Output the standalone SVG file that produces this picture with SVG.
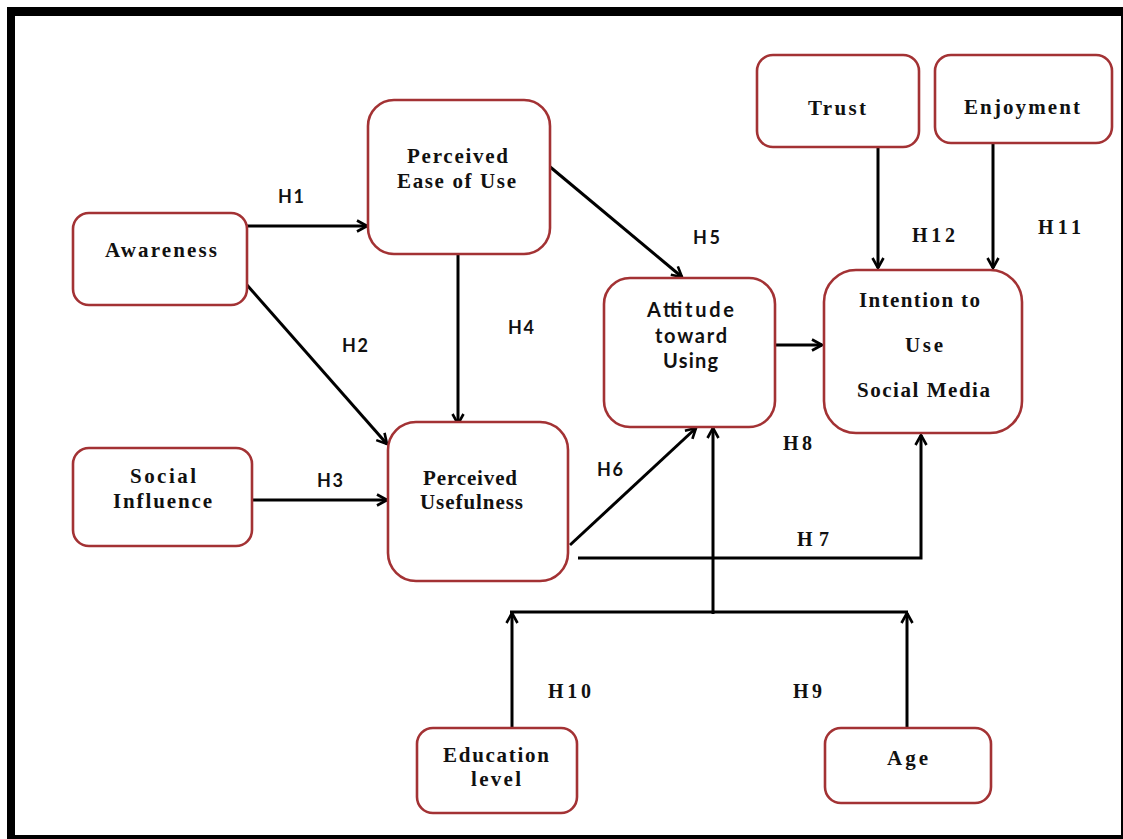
<svg xmlns="http://www.w3.org/2000/svg" width="1123" height="839" viewBox="0 0 1123 839">
<defs>
<marker id="arr" viewBox="0 0 14 14" refX="12" refY="7" markerWidth="14" markerHeight="14" markerUnits="userSpaceOnUse" orient="auto">
<path d="M2,1.5 L12,7 L2,12.5" fill="none" stroke="#000" stroke-width="2.6" stroke-linejoin="miter"/>
</marker>
</defs>
<style>
.box{fill:#fff;stroke:#a33234;stroke-width:2.6}
.t{font-family:"Liberation Serif",serif;font-weight:bold;font-size:21px;fill:#111}
.s{font-family:Lato,"Liberation Sans",sans-serif;font-weight:bold;font-size:20px;fill:#111}
.hs{font-family:Lato,"Liberation Sans",sans-serif;font-weight:bold;font-size:18px;fill:#111}
.hr{font-family:"Liberation Serif",serif;font-weight:bold;font-size:20px;fill:#111}
.c{fill:none;stroke:#000;stroke-width:3}
</style>
<rect x="0" y="0" width="1123" height="839" fill="#fff"/>
<path d="M7,7 H1123 V839 H7 Z M15,16 V835 H1121 V16 Z" fill="#000" fill-rule="evenodd"/>

<g id="connectors">
<line class="c" x1="247" y1="226" x2="367" y2="226" marker-end="url(#arr)"/>
<line class="c" x1="247" y1="285" x2="387" y2="444" marker-end="url(#arr)"/>
<line class="c" x1="252" y1="500" x2="387" y2="500" marker-end="url(#arr)"/>
<line class="c" x1="458" y1="246" x2="458" y2="424" marker-end="url(#arr)"/>
<line class="c" x1="549" y1="166" x2="682" y2="277" marker-end="url(#arr)"/>
<line class="c" x1="770" y1="345" x2="822" y2="345" marker-end="url(#arr)"/>
<line class="c" x1="878" y1="142" x2="878" y2="268" marker-end="url(#arr)"/>
<line class="c" x1="993" y1="144" x2="993" y2="268" marker-end="url(#arr)"/>
<line class="c" x1="570" y1="545" x2="696" y2="428" marker-end="url(#arr)"/>
<polyline class="c" points="578,558 921,558 921,435" marker-end="url(#arr)"/>
<line class="c" x1="510" y1="612" x2="908" y2="612"/>
<line class="c" x1="713" y1="614" x2="713" y2="428" marker-end="url(#arr)"/>
<line class="c" x1="512" y1="737" x2="512" y2="613" marker-end="url(#arr)"/>
<line class="c" x1="907" y1="735" x2="907" y2="613" marker-end="url(#arr)"/>
<text class="hs" x="278" y="203" textLength="26">H1</text>
<text class="hs" x="342" y="352" textLength="26">H2</text>
<text class="hs" x="317" y="487" textLength="26">H3</text>
<text class="hs" x="508" y="334" textLength="26">H4</text>
<text class="hs" x="693" y="244" textLength="27">H5</text>
<text class="hs" x="597" y="476" textLength="26">H6</text>
<text class="hr" x="797" y="546" textLength="32">H7</text>
<text class="hr" x="783" y="450" textLength="29">H8</text>
<text class="hr" x="793" y="698" textLength="29">H9</text>
<text class="hr" x="548" y="698" textLength="43">H10</text>
<text class="hr" x="1038" y="234" textLength="43">H11</text>
<text class="hr" x="912" y="242" textLength="43">H12</text>
</g>

<g id="awareness">
<rect class="box" x="73" y="213" width="174" height="92" rx="16"/>
<text class="t" x="105" y="257" textLength="112">Awareness</text>
</g>
<g id="peou">
<rect class="box" x="368" y="100" width="182" height="154" rx="26"/>
<text class="t" x="407" y="163" textLength="101">Perceived</text>
<text class="t" x="397" y="188" textLength="119">Ease of Use</text>
</g>
<g id="trust">
<rect class="box" x="757" y="55" width="162" height="92" rx="16"/>
<text class="t" x="808" y="115" textLength="58">Trust</text>
</g>
<g id="enjoyment">
<rect class="box" x="935" y="55" width="177" height="88" rx="16"/>
<text class="t" x="964" y="114" textLength="116">Enjoyment</text>
</g>
<g id="attitude">
<rect class="box" x="604" y="278" width="171" height="149" rx="26"/>
<text class="s" x="647" y="317" textLength="87">Attitude</text>
<text class="s" x="655" y="343" textLength="72">toward</text>
<text class="s" x="663" y="368" textLength="55">Using</text>
</g>
<g id="intention">
<rect class="box" x="824" y="270" width="198" height="163" rx="32"/>
<text class="t" x="859" y="307" textLength="121">Intention to</text>
<text class="t" x="905" y="352" textLength="38">Use</text>
<text class="t" x="857" y="397" textLength="133">Social Media</text>
</g>
<g id="social-influence">
<rect class="box" x="73" y="448" width="179" height="98" rx="16"/>
<text class="t" x="130" y="483" textLength="66">Social</text>
<text class="t" x="113" y="508" textLength="99">Influence</text>
</g>
<g id="pu">
<rect class="box" x="388" y="422" width="180" height="159" rx="28"/>
<text class="t" x="423" y="485" textLength="94">Perceived</text>
<text class="t" x="420" y="509" textLength="103">Usefulness</text>
</g>
<g id="education">
<rect class="box" x="417" y="728" width="160" height="85" rx="16"/>
<text class="t" x="443" y="762" textLength="106">Education</text>
<text class="t" x="471" y="786" textLength="50">level</text>
</g>
<g id="age">
<rect class="box" x="825" y="728" width="166" height="75" rx="16"/>
<text class="t" x="887" y="765" textLength="41">Age</text>
</g>
</svg>
